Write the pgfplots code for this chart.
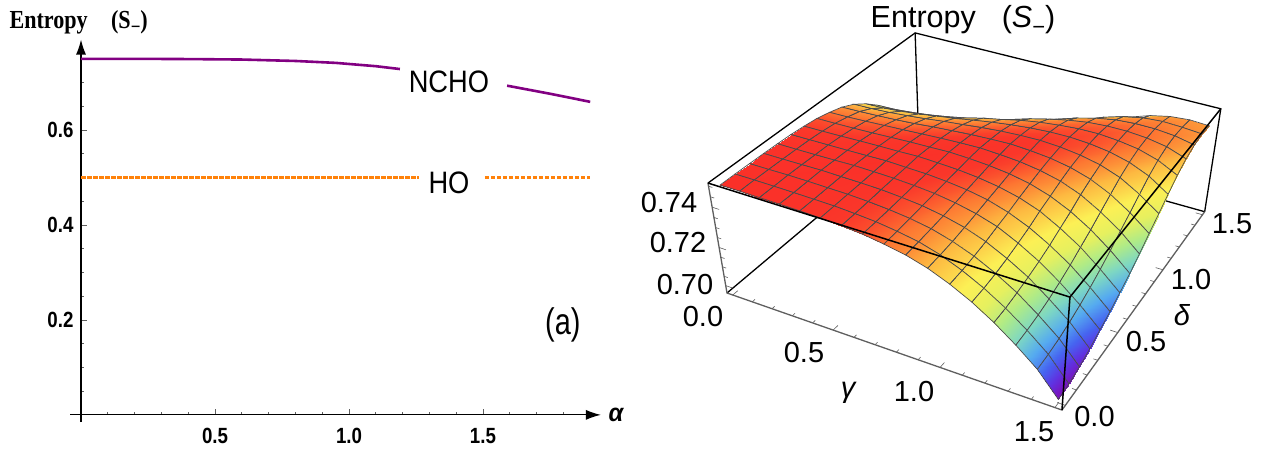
\documentclass[border=0pt]{standalone}
\usepackage{fontspec}
\usepackage{pgfplots}
\usepackage{pgfplotstable}
\pgfplotsset{compat=1.18}
\usepgfplotslibrary{patchplots}
\usetikzlibrary{arrows.meta}
\setmainfont{Liberation Sans}
\newfontfamily\narrowbf[FakeStretch=0.85]{Liberation Sans Bold}
\newfontfamily\narrowbfit[FakeStretch=0.95]{Liberation Sans Bold Italic}
\newfontfamily\narrowrm[FakeStretch=0.88]{Liberation Sans}
\newfontfamily\thinrm[FakeStretch=0.78]{Liberation Sans}
\newfontfamily\titlebf[FakeStretch=0.85]{Liberation Serif Bold}
\definecolor{ncho}{RGB}{130,0,130}
\definecolor{hoc}{RGB}{255,130,10}
\definecolor{axgray}{RGB}{95,95,95}

% entropy surface: i,j are the grid steps, gamma=1.5*i/16, delta=1.5*j/16
\pgfplotstableread[row sep=\\]{
i j S\\
0 16 0.6977\\1 16 0.6983\\2 16 0.6999\\3 16 0.7024\\4 16 0.7054\\5 16 0.7083\\6 16 0.7117\\7 16 0.7155\\8 16 0.7196\\9 16 0.7243\\10 16 0.7289\\11 16 0.7334\\12 16 0.7378\\13 16 0.7411\\14 16 0.7432\\15 16 0.7440\\16 16 0.7435\\
0 15 0.7094\\1 15 0.7099\\2 15 0.7110\\3 15 0.7127\\4 15 0.7148\\5 15 0.7174\\6 15 0.7205\\7 15 0.7241\\8 15 0.7281\\9 15 0.7319\\10 15 0.7358\\11 15 0.7397\\12 15 0.7426\\13 15 0.7445\\14 15 0.7452\\15 15 0.7448\\16 15 0.7440\\
0 14 0.7179\\1 14 0.7184\\2 14 0.7194\\3 14 0.7209\\4 14 0.7230\\5 14 0.7255\\6 14 0.7285\\7 14 0.7315\\8 14 0.7348\\9 14 0.7382\\10 14 0.7413\\11 14 0.7438\\12 14 0.7455\\13 14 0.7462\\14 14 0.7461\\15 14 0.7452\\16 14 0.7432\\
0 13 0.7255\\1 13 0.7259\\2 13 0.7270\\3 13 0.7284\\4 13 0.7301\\5 13 0.7322\\6 13 0.7348\\7 13 0.7375\\8 13 0.7404\\9 13 0.7428\\10 13 0.7448\\11 13 0.7463\\12 13 0.7470\\13 13 0.7470\\14 13 0.7462\\15 13 0.7445\\16 13 0.7411\\
0 12 0.7319\\1 12 0.7322\\2 12 0.7331\\3 12 0.7343\\4 12 0.7359\\5 12 0.7378\\6 12 0.7402\\7 12 0.7421\\8 12 0.7442\\9 12 0.7458\\10 12 0.7469\\11 12 0.7477\\12 12 0.7478\\13 12 0.7470\\14 12 0.7455\\15 12 0.7426\\16 12 0.7378\\
0 11 0.7371\\1 11 0.7374\\2 11 0.7382\\3 11 0.7393\\4 11 0.7408\\5 11 0.7421\\6 11 0.7438\\7 11 0.7453\\8 11 0.7466\\9 11 0.7476\\10 11 0.7482\\11 11 0.7483\\12 11 0.7477\\13 11 0.7463\\14 11 0.7438\\15 11 0.7397\\16 11 0.7334\\
0 10 0.7413\\1 10 0.7416\\2 10 0.7421\\3 10 0.7430\\4 10 0.7440\\5 10 0.7452\\6 10 0.7462\\7 10 0.7473\\8 10 0.7481\\9 10 0.7486\\10 10 0.7488\\11 10 0.7482\\12 10 0.7469\\13 10 0.7448\\14 10 0.7413\\15 10 0.7358\\16 10 0.7289\\
0 9 0.7443\\1 9 0.7446\\2 9 0.7450\\3 9 0.7455\\4 9 0.7462\\5 9 0.7471\\6 9 0.7478\\7 9 0.7485\\8 9 0.7489\\9 9 0.7492\\10 9 0.7486\\11 9 0.7476\\12 9 0.7458\\13 9 0.7428\\14 9 0.7382\\15 9 0.7319\\16 9 0.7243\\
0 8 0.7462\\1 8 0.7464\\2 8 0.7468\\3 8 0.7473\\4 8 0.7478\\5 8 0.7483\\6 8 0.7488\\7 8 0.7492\\8 8 0.7494\\9 8 0.7489\\10 8 0.7481\\11 8 0.7466\\12 8 0.7442\\13 8 0.7404\\14 8 0.7348\\15 8 0.7281\\16 8 0.7196\\
0 7 0.7477\\1 7 0.7478\\2 7 0.7480\\3 7 0.7483\\4 7 0.7487\\5 7 0.7491\\6 7 0.7493\\7 7 0.7496\\8 7 0.7492\\9 7 0.7485\\10 7 0.7473\\11 7 0.7453\\12 7 0.7421\\13 7 0.7375\\14 7 0.7315\\15 7 0.7241\\16 7 0.7155\\
0 6 0.7485\\1 6 0.7486\\2 6 0.7488\\3 6 0.7491\\4 6 0.7493\\5 6 0.7494\\6 6 0.7497\\7 6 0.7493\\8 6 0.7488\\9 6 0.7478\\10 6 0.7462\\11 6 0.7438\\12 6 0.7402\\13 6 0.7348\\14 6 0.7285\\15 6 0.7205\\16 6 0.7117\\
0 5 0.7491\\1 5 0.7492\\2 5 0.7493\\3 5 0.7494\\4 5 0.7496\\5 5 0.7498\\6 5 0.7494\\7 5 0.7491\\8 5 0.7483\\9 5 0.7471\\10 5 0.7452\\11 5 0.7421\\12 5 0.7378\\13 5 0.7322\\14 5 0.7255\\15 5 0.7174\\16 5 0.7083\\
0 4 0.7494\\1 4 0.7494\\2 4 0.7495\\3 4 0.7496\\4 4 0.7498\\5 4 0.7496\\6 4 0.7493\\7 4 0.7487\\8 4 0.7478\\9 4 0.7462\\10 4 0.7440\\11 4 0.7408\\12 4 0.7359\\13 4 0.7301\\14 4 0.7230\\15 4 0.7148\\16 4 0.7054\\
0 3 0.7496\\1 3 0.7496\\2 3 0.7497\\3 3 0.7498\\4 3 0.7496\\5 3 0.7494\\6 3 0.7491\\7 3 0.7483\\8 3 0.7473\\9 3 0.7455\\10 3 0.7430\\11 3 0.7393\\12 3 0.7343\\13 3 0.7284\\14 3 0.7209\\15 3 0.7127\\16 3 0.7024\\
0 2 0.7497\\1 2 0.7497\\2 2 0.7498\\3 2 0.7497\\4 2 0.7495\\5 2 0.7493\\6 2 0.7488\\7 2 0.7480\\8 2 0.7468\\9 2 0.7450\\10 2 0.7421\\11 2 0.7382\\12 2 0.7331\\13 2 0.7270\\14 2 0.7194\\15 2 0.7110\\16 2 0.6999\\
0 1 0.7498\\1 1 0.7498\\2 1 0.7497\\3 1 0.7496\\4 1 0.7494\\5 1 0.7492\\6 1 0.7486\\7 1 0.7478\\8 1 0.7464\\9 1 0.7446\\10 1 0.7416\\11 1 0.7374\\12 1 0.7322\\13 1 0.7259\\14 1 0.7184\\15 1 0.7099\\16 1 0.6983\\
0 0 0.7498\\1 0 0.7498\\2 0 0.7497\\3 0 0.7496\\4 0 0.7494\\5 0 0.7491\\6 0 0.7485\\7 0 0.7477\\8 0 0.7462\\9 0 0.7443\\10 0 0.7413\\11 0 0.7371\\12 0 0.7319\\13 0 0.7255\\14 0 0.7179\\15 0 0.7094\\16 0 0.6977\\
}\surfdata

% tick marks of the box, in box fractions u v w
\pgfplotstableread[row sep=\\]{
u v w\\
0.019 0 0\\0.019 0.022 0\\nan nan nan\\0.083 0 0\\0.083 0.012 0\\nan nan nan\\0.147 0 0\\0.147 0.012 0\\nan nan nan\\0.212 0 0\\0.212 0.012 0\\nan nan nan\\0.276 0 0\\0.276 0.012 0\\nan nan nan\\0.340 0 0\\0.340 0.022 0\\nan nan nan\\0.404 0 0\\0.404 0.012 0\\nan nan nan\\0.468 0 0\\0.468 0.012 0\\nan nan nan\\0.532 0 0\\0.532 0.012 0\\nan nan nan\\0.596 0 0\\0.596 0.012 0\\nan nan nan\\0.660 0 0\\0.660 0.022 0\\nan nan nan\\0.724 0 0\\0.724 0.012 0\\nan nan nan\\0.788 0 0\\0.788 0.012 0\\nan nan nan\\0.853 0 0\\0.853 0.012 0\\nan nan nan\\0.917 0 0\\0.917 0.012 0\\nan nan nan\\0.981 0 0\\0.981 0.022 0\\nan nan nan\\
1 0.019 0\\0.978 0.019 0\\nan nan nan\\1 0.083 0\\0.988 0.083 0\\nan nan nan\\1 0.147 0\\0.988 0.147 0\\nan nan nan\\1 0.212 0\\0.988 0.212 0\\nan nan nan\\1 0.276 0\\0.988 0.276 0\\nan nan nan\\1 0.340 0\\0.978 0.340 0\\nan nan nan\\1 0.404 0\\0.988 0.404 0\\nan nan nan\\1 0.468 0\\0.988 0.468 0\\nan nan nan\\1 0.532 0\\0.988 0.532 0\\nan nan nan\\1 0.596 0\\0.988 0.596 0\\nan nan nan\\1 0.660 0\\0.978 0.660 0\\nan nan nan\\1 0.724 0\\0.988 0.724 0\\nan nan nan\\1 0.788 0\\0.988 0.788 0\\nan nan nan\\1 0.853 0\\0.988 0.853 0\\nan nan nan\\1 0.917 0\\0.988 0.917 0\\nan nan nan\\1 0.981 0\\0.978 0.981 0\\nan nan nan\\
0 0 0.072\\0.022 0 0.072\\nan nan nan\\0 0 0.162\\0.012 0 0.162\\nan nan nan\\0 0 0.252\\0.012 0 0.252\\nan nan nan\\0 0 0.342\\0.012 0 0.342\\nan nan nan\\0 0 0.432\\0.022 0 0.432\\nan nan nan\\0 0 0.523\\0.012 0 0.523\\nan nan nan\\0 0 0.613\\0.012 0 0.613\\nan nan nan\\0 0 0.703\\0.012 0 0.703\\nan nan nan\\0 0 0.793\\0.022 0 0.793\\nan nan nan\\0 0 0.883\\0.012 0 0.883\\nan nan nan\\0 0 0.973\\0.012 0 0.973\\
}\boxticks

\tikzset{declare function={
  prW(\u,\v,\w)=1-0.0996*\u+0.22*\v-0.0724*\w;
  prX(\u,\v,\w)=(727+229.2*\u+393.5*\v-70.3*\w)/prW(\u,\v,\w);
  prY(\u,\v,\w)=450-(293+76.2*\u-132*\v-123.2*\w)/prW(\u,\v,\w);
}}
\newcommand{\boxline}[2]{%
  \addplot[#1] table[row sep=\\,
    x expr={prX(\thisrow{u},\thisrow{v},\thisrow{w})},
    y expr={prY(\thisrow{u},\thisrow{v},\thisrow{w})}] {#2};}
\newcommand{\bigtxt}{\fontsize{29}{29}\selectfont}

\begin{document}
\begin{tikzpicture}[x=1pt,y=1pt]
\path[use as bounding box] (0,0) rectangle (1271,450);

% left panel
\begin{axis}[
  at={(70.3pt,28pt)}, anchor=south west, scale only axis,
  width=530.6pt, height=382.4pt,
  xmin=-0.04, xmax=1.94, ymin=-0.015, ymax=0.79,
  axis lines=middle,
  axis line style={line width=1.2pt,black,-{Latex[length=15pt,width=10pt]}},
  xtick={0.5,1,1.5}, ytick={0.2,0.4,0.6},
  minor xtick={0.1,0.2,0.3,0.4,0.6,0.7,0.8,0.9,1.1,1.2,1.3,1.4,1.6,1.7,1.8},
  minor ytick={0.05,0.1,0.15,0.25,0.3,0.35,0.45,0.5,0.55,0.65,0.7,0.75},
  tick align=inside, major tick length=5.5pt, minor tick length=3pt,
  tick style={axgray,line width=0.7pt},
  xticklabel style={font=\narrowbf\fontsize{22}{22}\selectfont, yshift=-10pt},
  yticklabel style={font=\narrowbf\fontsize{22}{22}\selectfont, xshift=-4pt},
  /pgf/number format/assume math mode=true,
  /pgf/number format/fixed, /pgf/number format/fixed zerofill, /pgf/number format/precision=1,
  clip=false,
]
\addplot[ncho,line width=2.6pt] coordinates {(0,0.7495) (0.2,0.7495) (0.4,0.749) (0.6,0.748) (0.8,0.745) (0.95,0.741) (1.1,0.734) (1.19,0.728)};
\addplot[ncho,line width=2.6pt] coordinates {(1.59,0.693) (1.75,0.676) (1.9,0.659)};
\addplot[hoc,line width=2.4pt,dash pattern=on 4.5pt off 1.5pt] coordinates {(0,0.5) (1.26,0.5)};
\addplot[hoc,line width=2.4pt,dash pattern=on 4.5pt off 1.5pt] coordinates {(1.507,0.5) (1.9,0.5)};
\node[font=\narrowrm\fontsize{31}{31}\selectfont] at (axis cs:1.373,0.702) {NCHO};
\node[font=\narrowrm\fontsize{31}{31}\selectfont] at (axis cs:1.373,0.489) {HO};
\node[font=\thinrm\fontsize{37}{37}\selectfont] at (axis cs:1.798,0.19) {(a)};
\node[font=\narrowbfit\fontsize{25}{25}\selectfont] at (axis cs:1.996,0) {α};
\end{axis}
\node[font=\titlebf\fontsize{26}{26}\selectfont,anchor=west] at (6,428) {Entropy\hspace{0.9em}(S\raisebox{-0.2em}{\fontsize{20}{20}\selectfont −})};

% right panel, the box in perspective
\begin{axis}[
  at={(620pt,0pt)}, anchor=south west, scale only axis,
  width=651pt, height=450pt,
  xmin=620, xmax=1271, ymin=0, ymax=450,
  hide axis, clip=false,
  unbounded coords=jump,
  colormap={surfrainbow}{
    rgb255(0pt)=(120,20,185); rgb255(5pt)=(120,20,190); rgb255(12pt)=(95,50,225); rgb255(20pt)=(70,100,240);
    rgb255(30pt)=(85,170,240); rgb255(40pt)=(125,215,195); rgb255(50pt)=(175,235,135);
    rgb255(60pt)=(230,240,95); rgb255(70pt)=(252,240,85); rgb255(82pt)=(253,185,65);
    rgb255(90pt)=(253,120,50); rgb255(95pt)=(250,55,42); rgb255(100pt)=(250,38,38)},
]
% back edges of the box, behind the surface
\boxline{black,line width=1.3pt}{u v w\\0 0 0\\0 1 0\\1 1 0\\}
\boxline{black,line width=1.3pt}{u v w\\0 1 0\\0 1 1\\}
\boxline{black,line width=1.3pt}{u v w\\0 0 1\\0 1 1\\1 1 1\\1 1 0\\}
% grey axes and their ticks
\boxline{axgray,line width=1.3pt}{u v w\\0 0 1\\0 0 0\\1 0 0\\1 1 0\\}
\addplot[axgray,line width=0.6pt] table[
    x expr={prX(\thisrow{u},\thisrow{v},\thisrow{w})},
    y expr={prY(\thisrow{u},\thisrow{v},\thisrow{w})}] {\boxticks};
% surface
\addplot[surf,shader=faceted interp,faceted color=black!70,line width=0.7pt,
    mesh/cols=17,mesh/rows=17,
    point meta=\thisrow{S},point meta min=0.696,point meta max=0.7515]
  table[
    x expr={prX(0.02+0.06*\thisrow{i},0.02+0.06*\thisrow{j},(\thisrow{S}-0.696)/0.0555)},
    y expr={prY(0.02+0.06*\thisrow{i},0.02+0.06*\thisrow{j},(\thisrow{S}-0.696)/0.0555)}] {\surfdata};
% front edges on top
\boxline{black,line width=1.5pt}{u v w\\0 0 1\\1 0 1\\1 1 1\\}
\boxline{black,line width=1.5pt}{u v w\\1 0 0\\1 0 1\\}
\node[font=\bigtxt] at (axis cs:669,247) {0.74};
\node[font=\bigtxt] at (axis cs:678,207) {0.72};
\node[font=\bigtxt] at (axis cs:685,165) {0.70};
\node[font=\bigtxt] at (axis cs:703,133) {0.0};
\node[font=\bigtxt] at (axis cs:804,97) {0.5};
\node[font=\bigtxt] at (axis cs:914,58) {1.0};
\node[font=\bigtxt] at (axis cs:1034,18) {1.5};
\node[font=\bigtxt] at (axis cs:1094.5,33) {0.0};
\node[font=\bigtxt] at (axis cs:1146,108) {0.5};
\node[font=\bigtxt] at (axis cs:1191,170) {1.0};
\node[font=\bigtxt] at (axis cs:1232,226) {1.5};
\node[font=\bigtxt\itshape] at (axis cs:848,57) {γ};
\node[font=\bigtxt\itshape] at (axis cs:1182,135) {δ};
\node[font=\fontsize{30.5}{30.5}\selectfont] at (axis cs:963,430) {Entropy\hspace{0.85em}(\textit{S}\raisebox{-0.22em}{\fontsize{22}{22}\selectfont −})};
\end{axis}
\end{tikzpicture}
\end{document}
